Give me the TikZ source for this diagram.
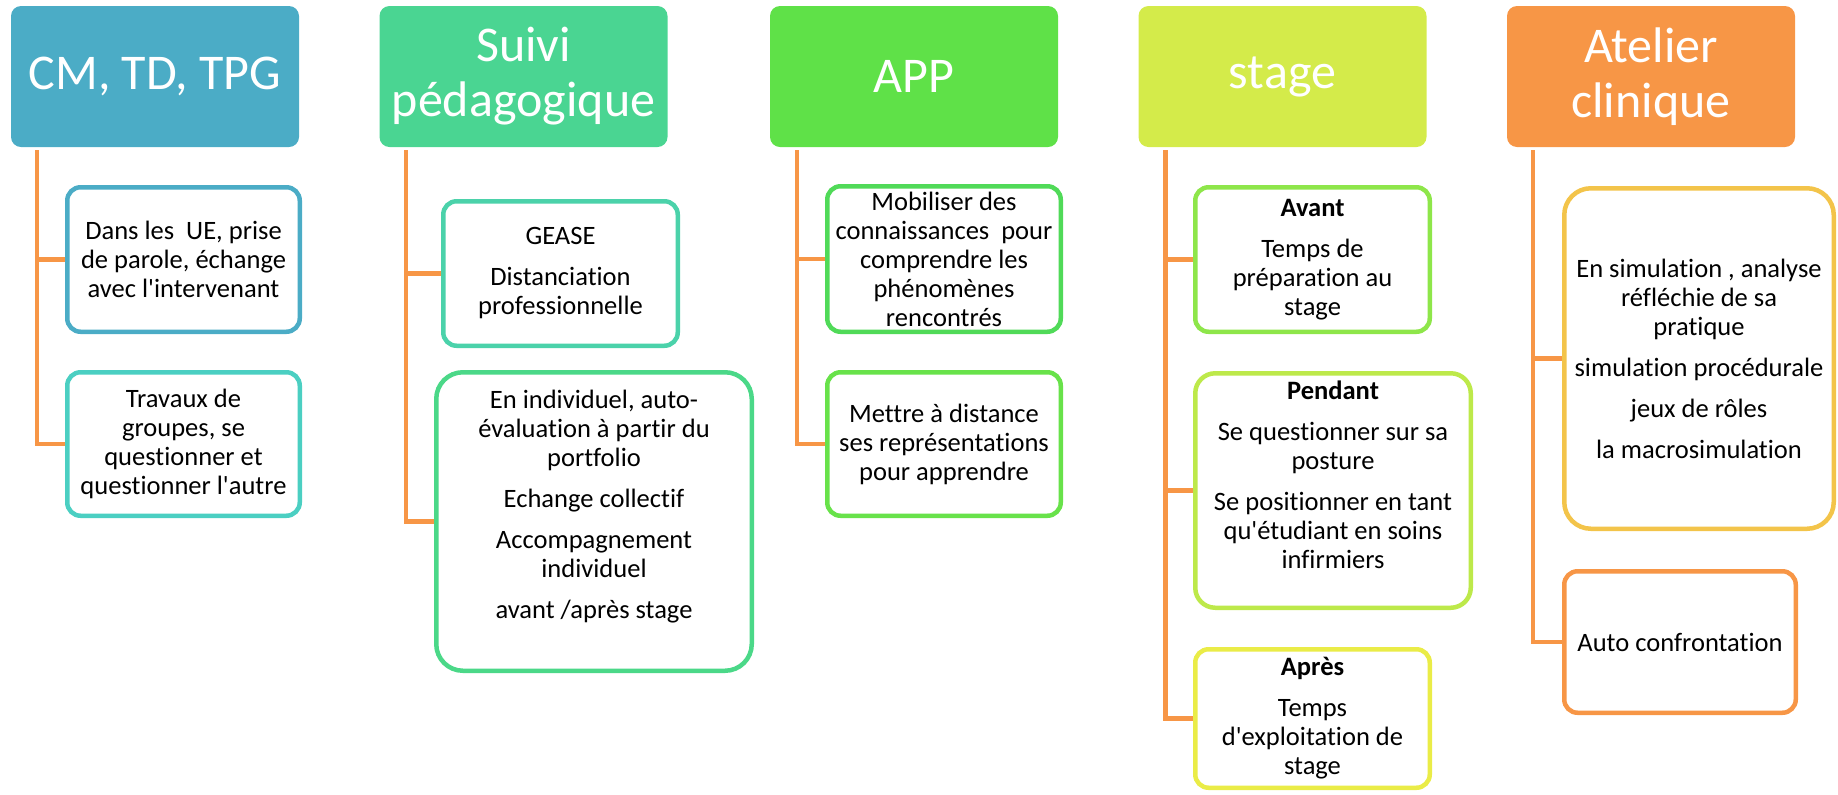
\documentclass[tikz,border=0pt]{standalone}
\usepackage{fontspec}
\setmainfont{Carlito}[Ligatures={NoCommon}]
\usetikzlibrary{calc}
\pgfdeclarelayer{bg}
\pgfsetlayers{bg,main}
\newcommand\hfnt{\fontsize{37.5}{41.25}\selectfont}
\newcommand\bfnt{\fontsize{19.9}{21.75}\selectfont}
\newcommand\apo{\textquotesingle}
\definecolor{cConn}{HTML}{F79646}
\definecolor{cH1}{HTML}{4BACC6}
\definecolor{cH2}{HTML}{4AD592}
\definecolor{cH3}{HTML}{5FE148}
\definecolor{cH4}{HTML}{D4EB4A}
\definecolor{cH5}{HTML}{F79646}
\definecolor{cK11}{HTML}{4BACC6}
\definecolor{cK12}{HTML}{4BCFC2}
\definecolor{cK21}{HTML}{4BD2AA}
\definecolor{cK22}{HTML}{4BD888}
\definecolor{cK31}{HTML}{50DA58}
\definecolor{cK32}{HTML}{68E24A}
\definecolor{cK41}{HTML}{8EE64A}
\definecolor{cK42}{HTML}{BDE94A}
\definecolor{cK43}{HTML}{EAEC47}
\definecolor{cK51}{HTML}{F3C44A}
\definecolor{cK52}{HTML}{F79646}
\begin{document}
\begin{tikzpicture}[x=0.75pt,y=-0.75pt,
  head/.style={fill=#1, rounded corners=7.5pt, minimum width=216pt, minimum height=105.75pt,
    text=white, font=\hfnt, align=center, inner sep=0pt, outer sep=0pt},
  kid/.style={draw=#1, line width=3.375pt, fill=white, rounded corners=10pt, align=center,
    font=\bfnt, inner sep=0pt, outer sep=0pt, text=black},
  sz/.style 2 args={minimum width=#1*0.75pt, minimum height=#2*0.75pt},
  conn/.style={draw=cConn, line width=3.6pt},
  txt/.style={align=center, font=\bfnt, inner sep=0pt, text=black}
]
\useasboundingbox (0,0) rectangle (1838,794);

% headers
\node[head=cH1] (H1) at (155,76.5) {CM, TD, TPG};
\node[head=cH2] (H2) at (523.5,76.5) {Suivi\\pédagogique};
\node[head=cH3] (H3) at (914,76.5) {APP};
\node[head=cH4] (H4) at (1282.5,76.5) {stage};
\node[head=cH5] (H5) at (1651,76.5) {Atelier\\clinique};

% column 1
\node[kid=cK11, sz={232.5}{144.5}] (C11) at (183.5,259.5)
  {Dans les\ \ UE, prise\\de parole, échange\\avec l\apo intervenant};
\node[kid=cK12, sz={232.5}{143.5}] (C12) at (183.5,444)
  {Travaux de\\groupes, se\\questionner et\\questionner l\apo autre};

% column 2
\node[kid=cK21, sz={234.5}{144.5}] (C21) at (560.5,273.5)
  {GEASE\\[9pt]Distanciation\\professionnelle};
\node[kid=cK22, sz={315.5}{298.5}, rounded corners=20pt] (C22) at (594,521.5) {};
\node[txt] (C22t) at ($(C22)+(0,-14.5)$)
  {En individuel, auto-\\évaluation à partir du\\portfolio\\[9pt]Echange collectif\\[9pt]Accompagnement\\individuel\\[9pt]avant /après stage};

% column 3
\node[kid=cK31, sz={233.5}{145.5}] (C31) at (944,259)
  {Mobiliser des\\connaissances\ \ pour\\comprendre les\\phénomènes\\rencontrés};
\node[kid=cK32, sz={233.5}{143.5}] (C32) at (944,444)
  {Mettre à distance\\ses représentations\\pour apprendre};

% column 4
\node[kid=cK41, sz={234.5}{144.5}] (C41) at (1312.5,259.5)
  {\textbf{Avant}\\[9pt]Temps de\\préparation au\\stage};
\node[kid=cK42, sz={275.5}{234.5}, rounded corners=15pt] (C42) at (1333,490.5) {};
\node[txt] (C42t) at ($(C42)+(0,-15.5)$)
  {\textbf{Pendant}\\[9pt]Se questionner sur sa\\posture\\[9pt]Se positionner en tant\\qu\apo étudiant en soins\\infirmiers};
\node[kid=cK43, sz={234.5}{138.5}] (C43) at (1312.5,718.5)
  {\textbf{Après}\\[9pt]Temps\\d\apo exploitation de\\stage};

% column 5
\node[kid=cK51, sz={269.5}{340.5}, rounded corners=20pt] (C51) at (1699,358.5)
  {En simulation , analyse\\réfléchie de sa\\pratique\\[9pt]simulation procédurale\\[9pt]jeux de rôles\\[9pt]la macrosimulation};
\node[kid=cK52, sz={231.5}{141.5}] (C52) at (1680,642) {Auto confrontation};

% connectors
\coordinate (T1) at ($(H1.south west)+(26,3)$);
\coordinate (T2) at ($(H2.south west)+(26.5,3)$);
\coordinate (T3) at ($(H3.south west)+(27,3)$);
\coordinate (T4) at ($(H4.south west)+(27,3)$);
\coordinate (T5) at ($(H5.south west)+(26,3)$);
\begin{pgfonlayer}{bg}
\draw[conn] (T1) |- (C11.west);
\draw[conn] (T1) |- (C12.west);
\draw[conn] (T2) |- (C21.west);
\draw[conn] (T2) |- (C22.west);
\draw[conn] (T3) |- (C31.west);
\draw[conn] (T3) |- (C32.west);
\draw[conn] (T4) |- (C41.west);
\draw[conn] (T4) |- (C42.west);
\draw[conn] (T4) |- (C43.west);
\draw[conn] (T5) |- (C51.west);
\draw[conn] (T5) |- (C52.west);
\end{pgfonlayer}
\end{tikzpicture}
\end{document}
